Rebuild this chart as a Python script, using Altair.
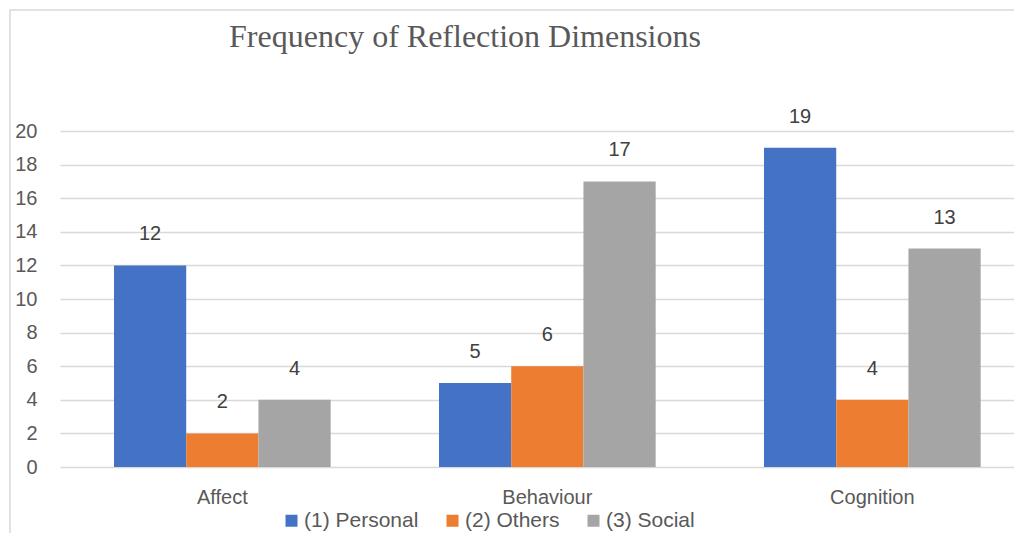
import altair as alt
import pandas as pd

categories = ["Affect", "Behaviour", "Cognition"]
series = ["(1) Personal", "(2) Others", "(3) Social"]
personal = [12, 5, 19]
others = [2, 6, 4]
social = [4, 17, 13]
colors = ["#4472C4", "#ED7D31", "#A5A5A5"]
y_ticks = [0, 2, 4, 6, 8, 10, 12, 14, 16, 18, 20]
title_text = "Frequency of Reflection Dimensions"

rows = []
for i, c in enumerate(categories):
    for s, vals in zip(series, [personal, others, social]):
        rows.append({"Dimension": c, "Series": s, "Count": vals[i]})
df = pd.DataFrame(rows)

SANS = "Liberation Sans"
LABEL = "#595959"

x_enc = alt.X(
    "Dimension:N",
    sort=categories,
    scale=alt.Scale(paddingInner=1 / 3, paddingOuter=0.13436, align=0.6183),
    axis=alt.Axis(title=None, labelAngle=0, ticks=False, domain=False,
                  labelPadding=20, labelFontSize=20, labelColor=LABEL,
                  labelFont=SANS),
)
xo_enc = alt.XOffset("Series:N", sort=series,
                     scale=alt.Scale(paddingInner=0, paddingOuter=0))
y_enc = alt.Y(
    "Count:Q",
    scale=alt.Scale(domain=[0, 20], nice=False),
    axis=alt.Axis(values=y_ticks, title=None, grid=True, gridColor="#D9D9D9",
                  gridWidth=1.5, domain=False, ticks=False, labelPadding=23,
                  labelOverlap=False, labelFlush=False,
                  labelFontSize=20, labelColor=LABEL, labelFont=SANS),
)

base = alt.Chart(df)

bars = base.mark_bar().encode(
    x=x_enc,
    xOffset=xo_enc,
    y=y_enc,
    color=alt.Color(
        "Series:N",
        sort=series,
        scale=alt.Scale(domain=series, range=colors),
        legend=alt.Legend(title=None, orient="none", legendX=221, legendY=379,
                          direction="horizontal", symbolType="square",
                          symbolSize=144, symbolStrokeWidth=0,
                          labelFontSize=21, labelColor=LABEL, labelFont=SANS,
                          labelOffset=2, columnPadding=23, padding=0),
    ),
)

labels = base.mark_text(dy=-25, baseline="alphabetic", fontSize=20,
                        color="#404040", font=SANS).encode(
    x=x_enc,
    xOffset=xo_enc,
    y=y_enc,
    text=alt.Text("Count:Q"),
)

single = pd.DataFrame({"b": [0]})

border = alt.Chart(single).mark_rect(
    fill="transparent", stroke="#D9D9D9", strokeWidth=1.5
).encode(
    x=alt.value(-50), x2=alt.value(1000),
    y=alt.value(-121), y2=alt.value(430),
)

title = alt.Chart(single).mark_text(
    font="Liberation Serif", fontSize=32, color="#595959",
    align="center", baseline="alphabetic"
).encode(
    x=alt.value(405), y=alt.value(-84), text=alt.value(title_text),
)

chart = alt.layer(border, title, bars, labels).properties(
    width=954,
    height=336,
    autosize=alt.AutoSizeParams(type="none"),
    padding={"left": 52, "top": 123, "right": 0, "bottom": 66},
    background="white",
).configure_view(stroke=None)

chart.save("out.html", embed_options={"renderer": "svg", "actions": False})
